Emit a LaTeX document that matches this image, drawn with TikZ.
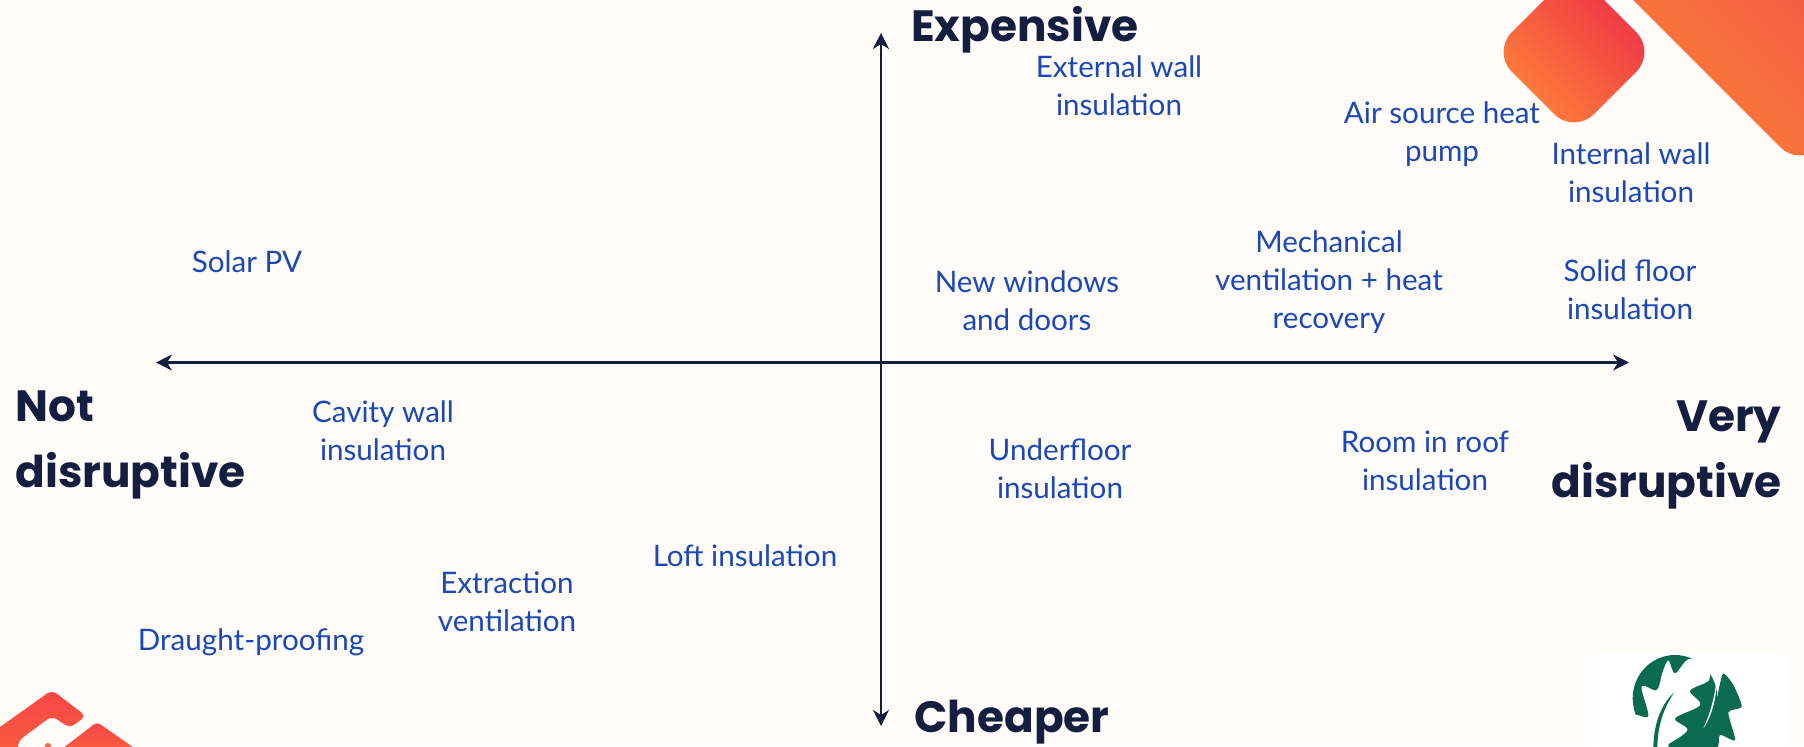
\documentclass[tikz,border=0pt]{standalone}
\usepackage{fontspec}
\setmainfont{Lato}
\newfontfamily\headfont{Poppins}
\usetikzlibrary{arrows.meta}
\definecolor{bgc}{HTML}{FFFCFA}
\definecolor{labc}{HTML}{1B48B8}
\definecolor{navy}{HTML}{141F3F}
\definecolor{leafg}{HTML}{0B6B4F}
\definecolor{orangeA}{HTML}{FF8539}
\definecolor{redA}{HTML}{EE2F48}
\definecolor{redB}{HTML}{F64646}
\definecolor{redC}{HTML}{FA5F3E}
\definecolor{redD}{HTML}{EE5546}
\tikzset{
  lab/.style={text=labc,align=center,font=\fontsize{14.8}{19}\selectfont,inner sep=0pt},
  head/.style={text=navy,font=\headfont\bfseries\fontsize{21.9}{33.4}\selectfont,inner sep=0pt},
  axis/.style={draw=navy,line width=1.1pt,{Stealth[length=8pt,width=8pt,inset=2.5pt]}-{Stealth[length=8pt,width=8pt,inset=2.5pt]}}
}
\begin{document}
\begin{tikzpicture}[x=0.5pt,y=-0.5pt]
\clip (0,0) rectangle (1804,746);
\fill[bgc] (0,0) rectangle (1804,746);
% decorations top right
\shade[left color=orangeA,right color=redA,shading angle=135,rounded corners=14pt]
  (1574,-30) -- (1656,52) -- (1574,134) -- (1492,52) -- cycle;
\shade[left color=orangeA,right color=redD,shading angle=135,rounded corners=14pt]
  (1590,-43) -- (1800,167) -- (1910,57) -- (1910,-43) -- cycle;
% bottom-left logo
\shade[top color=redB,bottom color=redC,rounded corners=3pt]
  (-40,755) -- (-40,760) -- (0,727) -- (52,690) -- (86,716) -- (70,728) -- (52,716) -- (18,741) -- (18,760) -- cycle;
\shade[top color=redB,bottom color=redC,rounded corners=2pt]
  (97,722) -- (140,752) -- (58,752) -- cycle;
\fill[redC] (48,746) circle (3);
% oak logo
\fill[white] (1590,653) rectangle (1787,746);
\begin{scope}[shift={(1560,630)},x=0.1667pt,y=-0.1667pt]
  \fill[leafg] (345,205) ellipse [x radius=127,y radius=130];
  \fill[leafg] plot[smooth cycle,tension=0.4] coordinates {
    (490,130) (520,165) (545,230) (505,247) (525,330) (480,315) (465,360) (330,360) (345,300) (430,250) (465,225) (478,170)};
  \fill[white] plot[smooth cycle,tension=0.55] coordinates {
    (325,92) (345,130) (385,88) (440,100) (447,150) (390,182) (420,225) (345,265) (382,300) (320,345) (282,362) (250,335) (224,258) (265,258) (245,170) (290,180) (308,125)};
  \fill[leafg] (342,188) .. controls (300,225) and (280,290) .. (280,355) -- (292,355) .. controls (292,290) and (310,235) .. (342,188) -- cycle;
  \fill[white] (472,125) .. controls (472,200) and (455,260) .. (430,295) .. controls (450,250) and (466,200) .. (472,125) -- cycle;
\end{scope}
% axes
\coordinate (L) at (156,362.5);
\coordinate (R) at (1629,362.5);
\coordinate (T) at (881,33);
\coordinate (B) at (881,726);
\draw[axis] (L) -- (R);
\draw[axis] (T) -- (B);
% headings
\node[head,anchor=center] (exp) at (1025,30) {Expensive};
\node[head,anchor=center] (chp) at (1012,722) {Cheaper};
\node[head,anchor=west,align=left] (nd) at (15,445) {Not\\disruptive};
\node[head,anchor=east,align=right] (vd) at (1782,455) {Very\\disruptive};
% labels
\node[lab] (a) at (1119,86) {External wall\\insulation};
\node[lab] (b) at (1442,134) {Air source heat\\pump};
\node[lab] (c) at (1631,173) {Internal wall\\insulation};
\node[lab] (d) at (1329,282) {Mechanical\\ventilation + heat\\recovery};
\node[lab] (e) at (1630,290) {Solid floor\\insulation};
\node[lab] (f) at (1027,301) {New windows\\and doors};
\node[lab] (g) at (247,262) {Solar PV};
\node[lab] (h) at (383,431) {Cavity wall\\insulation};
\node[lab] (i) at (1060,469) {Underfloor\\insulation};
\node[lab] (j) at (1425,461) {Room in roof\\insulation};
\node[lab] (k) at (745,556) {Loft insulation};
\node[lab] (l) at (507,602) {Extraction\\ventilation};
\node[lab] (m) at (251,642) {Draught-proofing};
\end{tikzpicture}
\end{document}
